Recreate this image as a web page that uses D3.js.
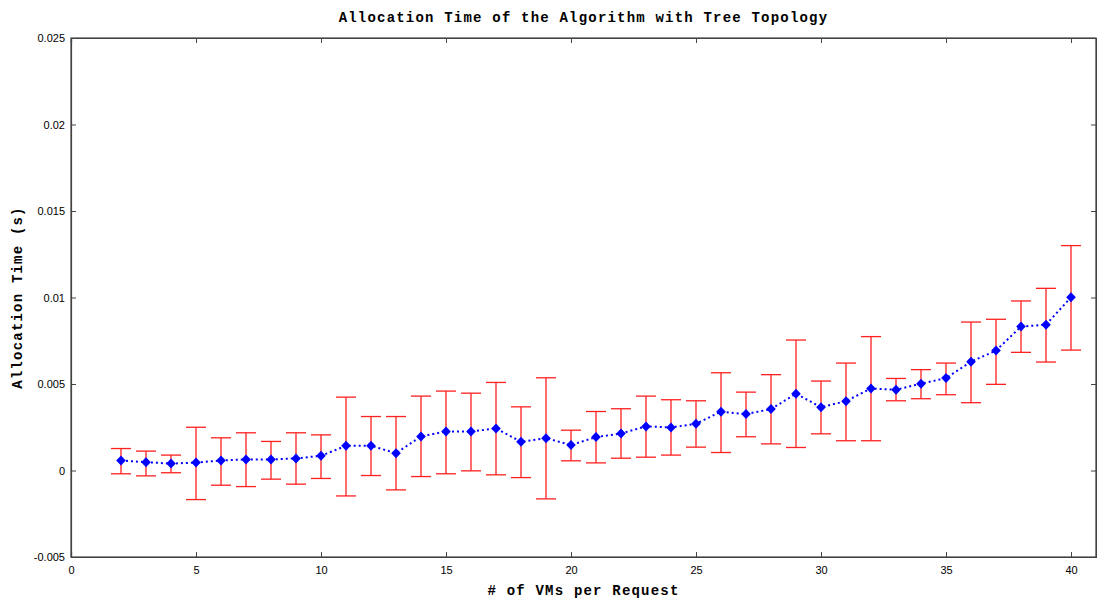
<!DOCTYPE html>
<html>
<head>
<meta charset="utf-8">
<script src="https://cdn.jsdelivr.net/npm/d3@7"></script>
<style>
  body { margin: 0; background: #fff; }
  .tick text { font-family: "Liberation Sans Narrow", "Liberation Sans", sans-serif; font-size: 11px; fill: #000; }
  .lbl { font-family: "Liberation Mono", "DejaVu Sans Mono", monospace; font-weight: bold; font-size: 14px; letter-spacing: 1.2px; }
</style>
</head>
<body>
<div id="chart"></div>
<script>
// dane
const vms = d3.range(2, 41);
const meanTime = [0.00058, 0.00048, 0.00040, 0.00046, 0.00058, 0.00064, 0.00064, 0.00070, 0.00085,
  0.00143, 0.00143, 0.00100, 0.00197, 0.00226, 0.00226, 0.00243, 0.00166, 0.00187, 0.00147,
  0.00193, 0.00214, 0.00255, 0.00249, 0.00270, 0.00340, 0.00326, 0.00355, 0.00444, 0.00366,
  0.00401, 0.00474, 0.00467, 0.00502, 0.00534, 0.00629, 0.00693, 0.00832, 0.00843, 0.01001];
const upper = [0.00127, 0.00112, 0.00089, 0.00250, 0.00189, 0.00218, 0.00168, 0.00218, 0.00206,
  0.00424, 0.00312, 0.00312, 0.00430, 0.00459, 0.00447, 0.00509, 0.00368, 0.00536, 0.00233,
  0.00341, 0.00357, 0.00430, 0.00409, 0.00403, 0.00565, 0.00453, 0.00554, 0.00754, 0.00517,
  0.00621, 0.00774, 0.00532, 0.00583, 0.00621, 0.00858, 0.00874, 0.00980, 0.01053, 0.01300];
const lower = [-0.00019, -0.00031, -0.00013, -0.00168, -0.00085, -0.00093, -0.00050, -0.00079, -0.00046,
  -0.00147, -0.00029, -0.00112, -0.00035, -0.00019, -0.00002, -0.00025, -0.00041, -0.00164, 0.00056,
  0.00044, 0.00071, 0.00077, 0.00089, 0.00135, 0.00104, 0.00195, 0.00154, 0.00133, 0.00212,
  0.00172, 0.00172, 0.00403, 0.00415, 0.00438, 0.00392, 0.00498, 0.00683, 0.00627, 0.00696];
const xTicks = [0, 5, 10, 15, 20, 25, 30, 35, 40];
const yTicks = [-0.005, 0, 0.005, 0.01, 0.015, 0.02, 0.025];

const data = vms.map((v, i) => ({ v: v, m: meanTime[i], hi: upper[i], lo: lower[i] }));

const width = 1097;
const height = 600;
const margin = { top: 38, bottom: 43, left: 71, right: 1 };

const svg = d3.select('#chart')
  .append('svg')
  .attr('width', width)
  .attr('height', height);

const x = d3.scaleLinear()
  .domain([0, 41])
  .range([margin.left, width - margin.right]);

const y = d3.scaleLinear()
  .domain([-0.005, 0.025])
  .range([height - margin.bottom, margin.top]);

const tickFmt = d => d === 0 ? '0' : String(+d.toFixed(3));

// osie z tickami do wewnatrz
svg.append('g')
  .attr('transform', `translate(0,${height - margin.bottom})`)
  .call(d3.axisBottom(x).tickValues(xTicks).tickSize(-5).tickPadding(9).tickFormat(d3.format('d')));
svg.append('g')
  .attr('transform', `translate(0,${margin.top})`)
  .call(d3.axisTop(x).tickValues(xTicks).tickSize(-5).tickFormat(''));
svg.append('g')
  .attr('transform', `translate(${margin.left},0)`)
  .call(d3.axisLeft(y).tickValues(yTicks).tickSize(-5).tickPadding(6).tickFormat(tickFmt));
svg.append('g')
  .attr('transform', `translate(${width - margin.right},0)`)
  .call(d3.axisRight(y).tickValues(yTicks).tickSize(-5).tickFormat(''));

svg.selectAll('.domain').attr('stroke', '#444').attr('stroke-width', 1.2);
svg.selectAll('.tick line').attr('stroke', '#444');

// ramka
svg.append('rect')
  .attr('x', margin.left)
  .attr('y', margin.top)
  .attr('width', width - margin.right - margin.left)
  .attr('height', height - margin.bottom - margin.top)
  .attr('fill', 'none')
  .attr('stroke', '#444')
  .attr('stroke-width', 1.2);

// slupki bledow
const cap = 10;
const err = svg.append('g').attr('stroke', '#ff2020').attr('stroke-width', 1.3);
err.selectAll('line.v').data(data).join('line')
  .attr('x1', d => x(d.v)).attr('x2', d => x(d.v))
  .attr('y1', d => y(d.hi)).attr('y2', d => y(d.lo));
err.selectAll('line.t').data(data).join('line')
  .attr('x1', d => x(d.v) - cap).attr('x2', d => x(d.v) + cap)
  .attr('y1', d => y(d.hi)).attr('y2', d => y(d.hi));
err.selectAll('line.b').data(data).join('line')
  .attr('x1', d => x(d.v) - cap).attr('x2', d => x(d.v) + cap)
  .attr('y1', d => y(d.lo)).attr('y2', d => y(d.lo));

// linia kropkowana
svg.append('path')
  .datum(data)
  .attr('fill', 'none')
  .attr('stroke', '#0000ff')
  .attr('stroke-width', 2)
  .attr('stroke-dasharray', '2,3')
  .attr('d', d3.line().x(d => x(d.v)).y(d => y(d.m)));

// markery romby
svg.append('g')
  .attr('fill', '#0000ff')
  .selectAll('path')
  .data(data)
  .join('path')
  .attr('transform', d => `translate(${x(d.v)},${y(d.m)})`)
  .attr('d', 'M0,-5L4.8,0L0,5L-4.8,0Z');

// teksty
svg.append('text').attr('class', 'lbl')
  .attr('x', (margin.left + width - margin.right) / 2).attr('y', 22)
  .attr('text-anchor', 'middle')
  .text('Allocation Time of the Algorithm with Tree Topology');
svg.append('text').attr('class', 'lbl')
  .attr('x', (margin.left + width - margin.right) / 2).attr('y', 595)
  .attr('text-anchor', 'middle')
  .text('# of VMs per Request');
svg.append('text').attr('class', 'lbl')
  .attr('transform', `translate(22,${(margin.top + height - margin.bottom) / 2}) rotate(-90)`)
  .attr('text-anchor', 'middle')
  .text('Allocation Time (s)');
</script>
</body>
</html>
